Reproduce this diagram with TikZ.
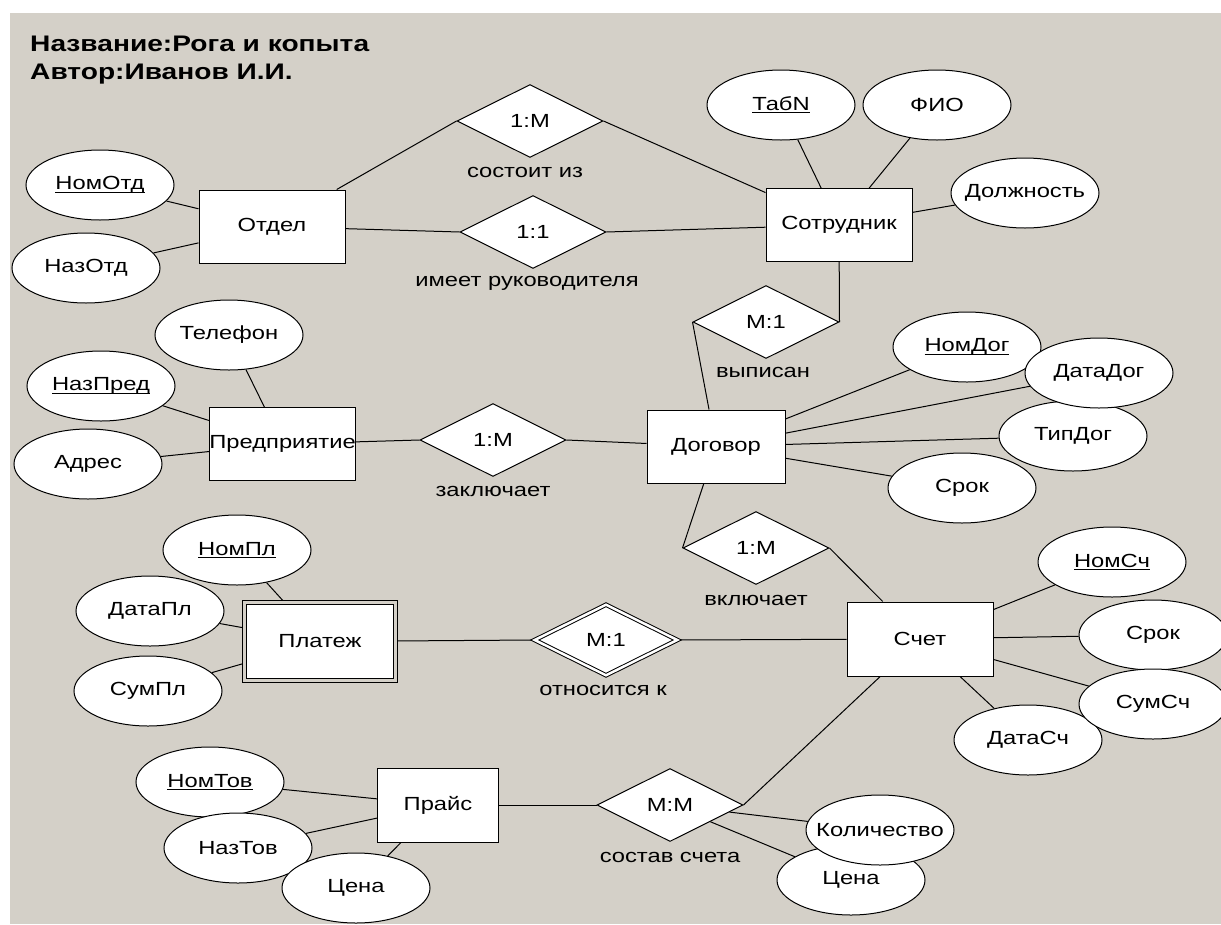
\documentclass[tikz,border=0pt]{standalone}
\usepackage{fontspec}
\setmainfont[FakeStretch=1.25]{Liberation Sans}
\usetikzlibrary{shapes.geometric}

\definecolor{winbg}{HTML}{D4D0C8}

\pgfdeclarelayer{backdrop}
\pgfdeclarelayer{wires}
\pgfsetlayers{backdrop,wires,main}

% attribute text: zero width so the ellipse keeps its fixed size
\newcommand\zw[1]{\makebox[0pt]{#1}}
% key attribute: underlined just below the baseline
\newcommand\keytext[1]{\makebox[0pt]{\setbox0=\hbox{#1}\rlap{\rule[-3pt]{\wd0}{1pt}}\box0}}

\begin{document}
\begin{tikzpicture}[x=1pt,y=-1pt,
  every node/.style={font=\fontsize{19}{21}\selectfont},
  ent/.style={draw, fill=white, line width=1pt, rectangle, minimum width=146pt, minimum height=73pt, inner sep=0pt},
  weakent/.style={ent, double=winbg, double distance=3pt, minimum width=151pt, minimum height=78pt},
  attr/.style={draw, fill=white, line width=1pt, ellipse, minimum width=148pt, minimum height=70pt, inner sep=0pt},
  rel/.style={draw, fill=white, line width=1pt, diamond, minimum width=146pt, minimum height=73pt, inner sep=0pt},
  weakrel/.style={rel, double=white, double distance=2.5pt, minimum width=143pt, minimum height=71pt},
  caption/.style={inner sep=0pt},
  titletext/.style={anchor=base west, inner sep=0pt, font=\bfseries\fontsize{22.5}{25}\selectfont},
  link/.style={line width=1pt},
]
\useasboundingbox (0,0) rectangle (1221,924);
\clip (0,0) rectangle (1221,924);

\begin{pgfonlayer}{backdrop}
  \fill[white] (0,0) rectangle (1221,924);
  \fill[winbg] (10,13) rectangle (1221,924);
\end{pgfonlayer}

% header
\node[titletext] (title) at (30,51) {Название:Рога и копыта};
\node[titletext] (author) at (30,79) {Автор:Иванов И.И.};

% entities
\node[ent] (otdel) at (272,226.5) {Отдел};
\node[ent] (sotr) at (839,225) {Сотрудник};
\node[ent] (pred) at (282.5,444) {Предприятие};
\node[ent, minimum width=138pt] (dog) at (716,446.5) {Договор};
\node[weakent] (plat) at (320,641.5) {Платеж};
\node[ent, minimum height=74pt] (schet) at (920,639) {Счет};
\node[ent, minimum width=121pt, minimum height=74pt] (prais) at (438,805) {Прайс};

% relationships
\node[rel] (consists) at (530,121) {1:M};
\node[rel] (heads) at (533,232) {1:1};
\node[rel] (signed) at (766,322) {M:1};
\node[rel] (concl) at (493,440) {1:M};
\node[rel] (incl) at (756,548) {1:M};
\node[weakrel] (belongs) at (606,640) {M:1};
\node[rel] (compos) at (670,805) {M:M};

% relationship captions
\node[caption] (consistsL) at (525,172) {состоит из};
\node[caption] (headsL) at (527,283) {имеет руководителя};
\node[caption] (signedL) at (763,372) {выписан};
\node[caption] (conclL) at (493,491) {заключает};
\node[caption] (inclL) at (756,600) {включает};
\node[caption] (belongsL) at (603,690) {относится к};
\node[caption] (composL) at (670,857) {состав счета};

% attributes
\node[attr] (nomotd) at (100,185) {\keytext{НомОтд}};
\node[attr] (nazotd) at (86,268) {\zw{НазОтд}};
\node[attr] (tabn) at (781,105) {\keytext{ТабN}};
\node[attr] (fio) at (937,105) {\zw{ФИО}};
\node[attr] (post) at (1025,193) {\zw{Должность}};
\node[attr] (phone) at (229,335) {\zw{Телефон}};
\node[attr] (nazpred) at (101,386) {\keytext{НазПред}};
\node[attr] (addr) at (88,464) {\zw{Адрес}};
\node[attr] (dogterm) at (962,488) {\zw{Срок}};
\node[attr] (tipdog) at (1073,436) {\zw{ТипДог}};
\node[attr] (nomdog) at (967,347) {\keytext{НомДог}};
\node[attr] (datadog) at (1099,373) {\zw{ДатаДог}};
\node[attr] (nompl) at (237,550) {\keytext{НомПл}};
\node[attr] (datapl) at (150,611) {\zw{ДатаПл}};
\node[attr] (sumpl) at (148,691) {\zw{СумПл}};
\node[attr] (nomsch) at (1112,562) {\keytext{НомСч}};
\node[attr] (schterm) at (1153,635) {\zw{Срок}};
\node[attr] (datasch) at (1028,740) {\zw{ДатаСч}};
\node[attr] (sumsch) at (1153,704) {\zw{СумСч}};
\node[attr] (nomtov) at (210,782) {\keytext{НомТов}};
\node[attr] (naztov) at (238,848) {\zw{НазТов}};
\node[attr] (price1) at (356,888) {\zw{Цена}};
\node[attr] (price2) at (851,880) {\zw{Цена}};
\node[attr] (qty) at (880,830) {\zw{Количество}};

\begin{pgfonlayer}{wires}
  % relationship links: from the diamond corner towards the entity
  \draw[link] (consists.west) -- (otdel);
  \draw[link] (consists.east) -- (sotr);
  \draw[link] (heads.west) -- (otdel);
  \draw[link] (heads.east) -- (sotr);
  \draw[link] (signed.east) -- (sotr);
  \draw[link] (signed.west) -- (dog);
  \draw[link] (concl.west) -- (pred);
  \draw[link] (concl.east) -- (dog);
  \draw[link] (incl.west) -- (dog);
  \draw[link] (incl.east) -- (schet);
  \draw[link] (belongs.west) -- (plat);
  \draw[link] (belongs.east) -- (schet);
  \draw[link] (compos.west) -- (prais);
  \draw[link] (compos.east) -- (schet);
  \draw[link] (compos) -- (qty);
  \draw[link] (compos) -- (price2);
  % attribute links
  \draw[link] (nomotd) -- (otdel);
  \draw[link] (nazotd) -- (otdel);
  \draw[link] (tabn) -- (sotr);
  \draw[link] (fio) -- (sotr);
  \draw[link] (post) -- (sotr);
  \draw[link] (phone) -- (pred);
  \draw[link] (nazpred) -- (pred);
  \draw[link] (addr) -- (pred);
  \draw[link] (nomdog) -- (dog);
  \draw[link] (datadog) -- (dog);
  \draw[link] (tipdog) -- (dog);
  \draw[link] (dogterm) -- (dog);
  \draw[link] (nompl) -- (plat);
  \draw[link] (datapl) -- (plat);
  \draw[link] (sumpl) -- (plat);
  \draw[link] (nomsch) -- (schet);
  \draw[link] (schterm) -- (schet);
  \draw[link] (sumsch) -- (schet);
  \draw[link] (datasch) -- (schet);
  \draw[link] (nomtov) -- (prais);
  \draw[link] (naztov) -- (prais);
  \draw[link] (price1) -- (prais);
\end{pgfonlayer}
\end{tikzpicture}
\end{document}
